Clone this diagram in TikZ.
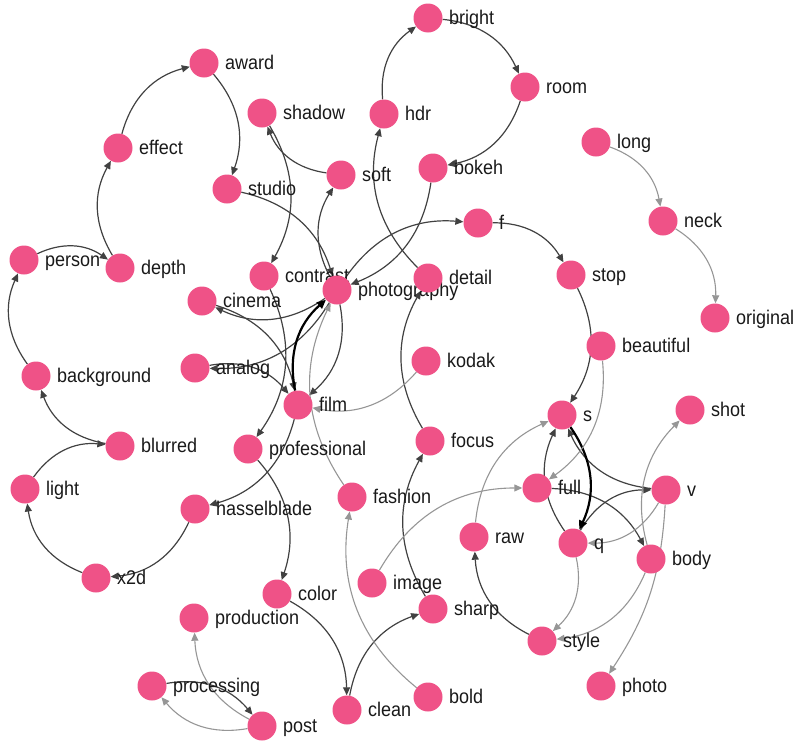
\documentclass[tikz,border=0pt]{standalone}
\usepackage{fontspec}
\setmainfont{Liberation Sans}
\usetikzlibrary{arrows.meta}
\pgfdeclarelayer{bg}
\pgfsetlayers{bg,main}
\definecolor{nodepink}{RGB}{239,82,135}
\definecolor{edgedark}{RGB}{65,65,65}
\definecolor{edgegray}{RGB}{150,150,150}
\definecolor{labelcol}{RGB}{25,25,25}
\begin{document}
\begin{tikzpicture}[x=1pt,y=-1pt,
  vtx/.style={circle,fill=nodepink,minimum size=29pt,inner sep=0pt},
  lbl/.style={anchor=base west,inner sep=0pt,font=\fontsize{18}{18}\selectfont,text=labelcol},
  de/.style={draw=edgedark,line width=1.2pt,-{Triangle[length=8pt,width=7pt]},bend left=30},
  ge/.style={draw=edgegray,line width=1.1pt,-{Triangle[length=8pt,width=7pt]},bend left=30},
  te/.style={draw=black,line width=2.2pt,-{Triangle[length=9pt,width=8pt]},bend left=30}]
\useasboundingbox (0,0) rectangle (800,747);
\foreach \n/\x/\y in {
  bright/428/18, room/525/87, award/204/63, shadow/262/113, hdr/384/114,
  effect/118/148, long/596/142, soft/341/175, studio/227/189, bokeh/433/168,
  f/478/223, neck/663/221, person/24/260, depth/120/268, contrast/264/276,
  photography/337/290, detail/428/278, stop/571/275, cinema/202/301,
  original/715/318, beautiful/601/346, kodak/426/361, analog/195/368,
  background/36/376, film/298/405, shot/690/410, s/562/415, focus/430/441,
  blurred/120/446, professional/248/449, light/25/489, full/537/488, v/666/490,
  fashion/352/497, hasselblade/195/509, raw/474/537, q/573/543, body/651/559,
  x2d/96/578, image/372/583, color/277/594, sharp/433/609, production/194/618,
  style/542/641, processing/152/686, photo/601/686, bold/428/697,
  post/262/726, clean/347/710}
{
  \node[vtx] (\n) at (\x,\y) {};
  \node[lbl] (\n-l) at (\x+21,\y+6) {\scalebox{1}[1.1]{\n}};
}
\begin{pgfonlayer}{bg}
% dark edges
\draw[de] (award) to (studio);
\draw[de] (effect) to (award);
\draw[de] (depth) to (effect);
\draw[de] (person) to (depth);
\draw[de] (background) to (person);
\draw[de] (blurred) to (background);
\draw[de] (light) to (blurred);
\draw[de] (x2d) to (light);
\draw[de] (hasselblade) to (x2d);
\draw[de] (film) to (hasselblade);
\draw[de] (contrast) to (professional);
\draw[de] (professional) to (color);
\draw[de] (color) to (clean);
\draw[de] (clean) to (sharp);
\draw[de] (sharp) to (focus);
\draw[de] (focus) to (detail);
\draw[de] (detail) to (hdr);
\draw[de] (hdr) to (bright);
\draw[de] (bright) to (room);
\draw[de] (room) to (bokeh);
\draw[de] (bokeh) to (photography);
\draw[de] (photography) to (f);
\draw[de] (f) to (stop);
\draw[de] (stop) to (s);
\draw[de] (studio) to (photography);
\draw[de] (photography) to (soft);
\draw[de] (soft) to (shadow);
\draw[de] (shadow) to (contrast);
\draw[de] (photography) to (cinema);
\draw[de] (cinema) to (film);
\draw[de] (photography) to (analog);
\draw[de] (analog) to (film);
\draw[de] (photography) to (film);
\draw[de] (processing) to (post);
\draw[de] (style) to (raw);
\draw[de] (full) to (body);
\draw[de] (q) to (s);
\draw[de] (v) to (s);
\draw[de] (q) to (v);
% thick edges
\draw[te] (film) to (photography);
\draw[te] (s) to (q);
% gray edges
\draw[ge] (long) to (neck);
\draw[ge] (neck) to (original);
\draw[ge] (fashion) to (photography);
\draw[ge] (kodak) to (film);
\draw[ge] (bold) to (fashion);
\draw[ge] (image) to (full);
\draw[ge] (post) to (production);
\draw[ge] (post) to (processing);
\draw[ge] (raw) to (s);
\draw[ge] (beautiful) to (full);
\draw[ge] (v) to (q);
\draw[ge] (body) to (shot);
\draw[ge] (body) to (style);
\draw[ge] (q) to (style);
\draw[ge,bend left=15] (v) to (photo);
\end{pgfonlayer}
\end{tikzpicture}
\end{document}
